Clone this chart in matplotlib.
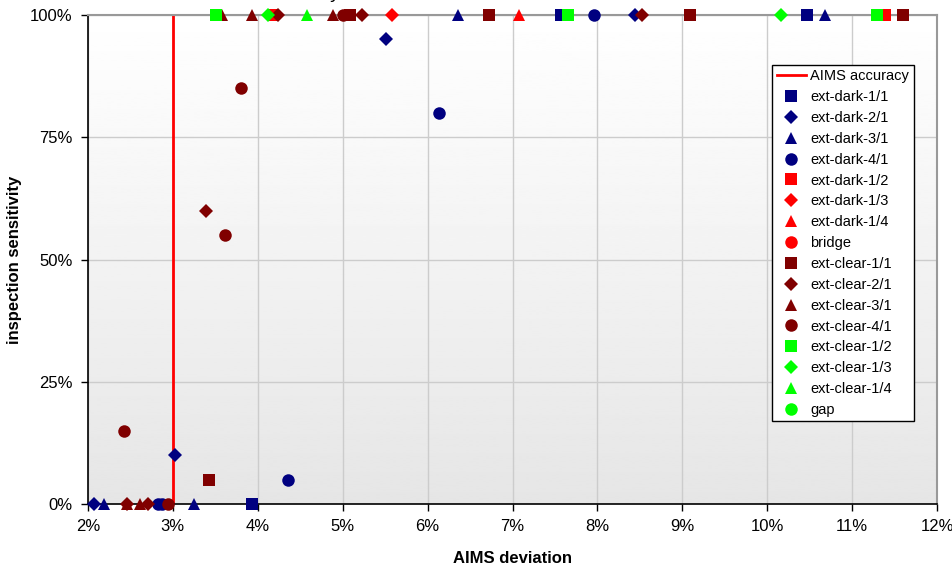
import matplotlib.pyplot as plt
import numpy as np

plt.rcParams['font.family'] = ['Liberation Sans', 'DejaVu Sans']

# AIMS deviation (%) and inspection sensitivity (%) per series
names = ['ext-dark-1/1', 'ext-dark-2/1', 'ext-dark-3/1', 'ext-dark-4/1',
         'ext-dark-1/2', 'ext-dark-1/3', 'ext-dark-1/4', 'bridge',
         'ext-clear-1/1', 'ext-clear-2/1', 'ext-clear-3/1', 'ext-clear-4/1',
         'ext-clear-1/2', 'ext-clear-1/3', 'ext-clear-1/4', 'gap']

dark_11_x = [7.57, 10.47, 3.93]
dark_11_y = [100, 100, 0]
dark_21_x = [8.44, 5.51, 3.02, 2.07]
dark_21_y = [100, 95, 10, 0]
dark_31_x = [6.36, 10.68, 2.19, 3.25]
dark_31_y = [100, 100, 0, 0]
dark_41_x = [7.96, 6.13, 4.36, 2.82, 2.87]
dark_41_y = [100, 80, 5, 0, 0]
dark_12_x = [4.18, 11.39]
dark_12_y = [100, 100]
dark_13_x = [5.58]
dark_13_y = [100]
dark_14_x = [7.08]
dark_14_y = [100]
bridge_x = []
bridge_y = []
clear_11_x = [5.09, 6.72, 9.09, 11.6, 3.43]
clear_11_y = [100, 100, 100, 100, 5]
clear_21_x = [4.24, 5.23, 8.53, 3.39, 2.46, 2.71]
clear_21_y = [100, 100, 100, 60, 0, 0]
clear_31_x = [3.58, 3.93, 4.89, 2.46, 2.61]
clear_31_y = [100, 100, 100, 0, 0]
clear_41_x = [5.0, 3.80, 3.61, 2.42, 2.94]
clear_41_y = [100, 85, 55, 15, 0]
clear_12_x = [3.51, 7.65, 11.29]
clear_12_y = [100, 100, 100]
clear_13_x = [4.12, 10.16]
clear_13_y = [100, 100]
clear_14_x = [4.58]
clear_14_y = [100]
gap_x = []
gap_y = []

aims_x = [3, 3]
aims_y = [0, 100]

xs = [dark_11_x, dark_21_x, dark_31_x, dark_41_x, dark_12_x, dark_13_x, dark_14_x, bridge_x,
      clear_11_x, clear_21_x, clear_31_x, clear_41_x, clear_12_x, clear_13_x, clear_14_x, gap_x]
ys = [dark_11_y, dark_21_y, dark_31_y, dark_41_y, dark_12_y, dark_13_y, dark_14_y, bridge_y,
      clear_11_y, clear_21_y, clear_31_y, clear_41_y, clear_12_y, clear_13_y, clear_14_y, gap_y]

colors = ['#000080'] * 4 + ['#ff0000'] * 4 + ['#800000'] * 4 + ['#00ff00'] * 4
markers = ['s', 'D', '^', 'o'] * 4
sizes = {'s': 9, 'D': 7, '^': 9, 'o': 9}

fig = plt.figure(figsize=(9.53, 5.67), dpi=100)
ax = fig.add_axes([0.0923, 0.111, 0.891, 0.8625])

# grey-to-white gradient background
grad = np.linspace(0.90, 1.0, 256).reshape(-1, 1)
ax.imshow(grad, extent=[2, 12, 0, 100], origin='lower', aspect='auto',
          cmap='gray', vmin=0, vmax=1, zorder=0)

ax.plot(aims_x, aims_y, color='#ff0000', lw=2, label='AIMS accuracy', zorder=2)
for name, x, y, c, m in zip(names, xs, ys, colors, markers):
    ax.plot(x, y, linestyle='none', marker=m, color=c, markersize=sizes[m],
            markeredgewidth=0, label=name, clip_on=False, zorder=3)

ax.set_xlim(2, 12)
ax.set_ylim(0, 100)
ax.set_xticks(np.arange(2, 13, 1))
ax.set_xticklabels([f'{v}%' for v in range(2, 13)], fontsize=12)
ax.set_yticks([0, 25, 50, 75, 100])
ax.set_yticklabels(['0%', '25%', '50%', '75%', '100%'], fontsize=12)
ax.grid(True, color='#cccccc', lw=1)
ax.set_axisbelow(True)
ax.tick_params(direction='out', length=5, width=1, colors='black', pad=6)

for s in ['top', 'right']:
    ax.spines[s].set_color('#999999')
    ax.spines[s].set_linewidth(1.5)
for s in ['left', 'bottom']:
    ax.spines[s].set_color('black')
    ax.spines[s].set_linewidth(1.2)

ax.set_xlabel('AIMS deviation', fontsize=12, fontweight='bold', labelpad=12)
ax.set_ylabel('inspection sensitivity', fontsize=12, fontweight='bold', labelpad=6)

leg = ax.legend(loc='upper left', bbox_to_anchor=(0.806, 0.898), fontsize=10.5,
                frameon=True, fancybox=False, edgecolor='black', framealpha=1,
                borderpad=0.3, labelspacing=0.47, handlelength=2.0, handletextpad=0.3,
                borderaxespad=0)
leg.get_frame().set_linewidth(1)
leg.set_zorder(5)

# title clipped at the top of the figure; only the descender shows
fig.text(0.357, 1.004, 'sensitivity', ha='right', va='baseline', fontsize=14)

fig.savefig('out.png', dpi=100)
